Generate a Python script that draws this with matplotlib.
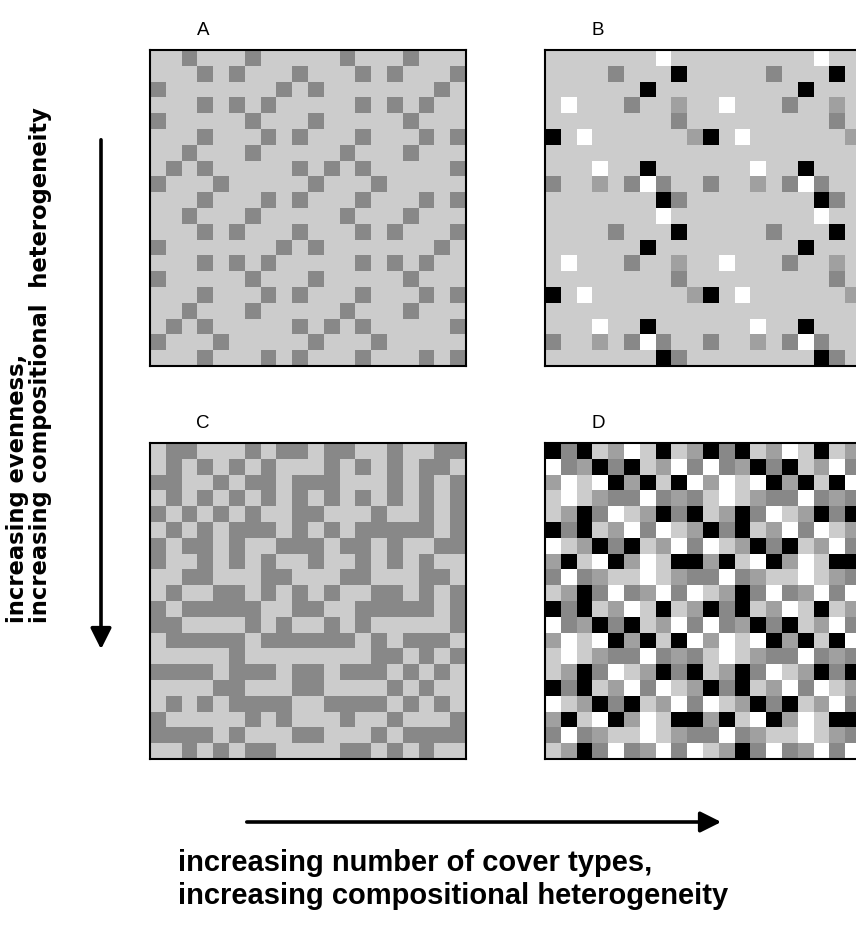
import numpy as np
import matplotlib
matplotlib.use("Agg")
import matplotlib.pyplot as plt
from matplotlib.colors import ListedColormap
from matplotlib.patches import FancyArrowPatch

# cover type codes: 0 light grey, 1 dark grey, 2 mid grey, 3 black, 4 white
cover_colors = ["#cccccc", "#888888", "#a0a0a0", "#000000", "#ffffff"]

panel_a = [
    "00100010000010001000",
    "00010100010001010001",
    "10000000101000000010",
    "00010101000001010100",
    "10000010001000001000",
    "00010001010001000101",
    "00100010000010001000",
    "01010000010101000001",
    "10001000001000100000",
    "00010001010001000101",
    "00100010000010001000",
    "00010100010001010001",
    "10000000101000000010",
    "00010101000001010100",
    "10000010001000001000",
    "00010001010001000101",
    "00100010000010001000",
    "01010000010101000001",
    "10001000001000100000",
    "00010001010001000101",
]

panel_b = [
    "00000004000000000400",
    "00001000300000100030",
    "00000030000000003000",
    "04000100200400010020",
    "00000000100000000010",
    "30400000023040000002",
    "00000000000000000000",
    "00040030000004003000",
    "10020141001002014100",
    "00000003100000000310",
    "00000004000000000400",
    "00001000300000100030",
    "00000030000000003000",
    "04000100200400010020",
    "00000000100000000010",
    "30400000023040000002",
    "00000000000000000000",
    "00040030000004003000",
    "10020141001002014100",
    "00000003100000000310",
]

panel_c = [
    "01100010110110010011",
    "01010101000101010110",
    "11001011011100010101",
    "01010101010101010101",
    "10101010011000100101",
    "01010111010101111101",
    "10110100111011010011",
    "10010101001001010100",
    "00110001100011000110",
    "01001101010100110101",
    "10111110011001111101",
    "11000010100101000001",
    "01111101111110101110",
    "00000100000000110101",
    "11110111011011101010",
    "00001100011000010100",
    "01010111100111101010",
    "10000010100010010001",
    "11110100011000101111",
    "00101011000011010100",
]

panel_d = [
    "31302403023130240302",
    "41231302414123130241",
    "24043230342404323034",
    "04021141210402114121",
    "02314023130231402313",
    "31302414023130241402",
    "40231302414023130241",
    "23043240332304324033",
    "14120040211412004021",
    "02314124140231412414",
    "31302403023130240302",
    "41231302414123130241",
    "24043230342404323034",
    "04021141210402114121",
    "02314023130231402313",
    "31302414023130241402",
    "40231302414023130241",
    "23043240332304324033",
    "14120040211412004021",
    "02314124140231412414",
]

panel_labels = ["A", "B", "C", "D"]
y_label_lines = ["increasing evenness,", "increasing compositional  heterogeneity"]
x_label_lines = ["increasing number of cover types,", "increasing compositional heterogeneity"]

W, H = 856, 927
fig = plt.figure(figsize=(W / 100, H / 100), dpi=100)


def fx(x):
    return x / W


def fy(y):
    return 1 - y / H


def draw_grid(rows, left, top, size=316):
    grid = np.array([[int(c) for c in r] for r in rows])
    ax = fig.add_axes([fx(left), fy(top + size), size / W, size / H])
    ax.imshow(grid, cmap=ListedColormap(cover_colors), vmin=-0.5, vmax=4.5,
              interpolation="nearest", aspect="auto")
    ax.set_xticks([])
    ax.set_yticks([])
    for s in ax.spines.values():
        s.set_linewidth(1.5)
        s.set_color("black")
    return ax


grids = [panel_a, panel_b, panel_c, panel_d]
corners = [(150, 50), (545, 50), (150, 443), (545, 443)]
for rows, (lx, ty), lab in zip(grids, corners, panel_labels):
    draw_grid(rows, lx, ty)
    fig.text(fx(lx + 53), fy(ty - 15), lab, fontsize=13.5, family="Liberation Sans",
             ha="center", va="baseline")

# vertical axis label (rotated, two lines); DejaVu is wider, like the stretched original
for line, bx in zip(y_label_lines, [24, 47]):
    fig.text(fx(bx), fy(623), line, rotation=90, rotation_mode="anchor",
             ha="left", va="baseline", fontsize=16.3, fontweight="bold",
             family="DejaVu Sans")

# horizontal label
for line, by in zip(x_label_lines, [871, 904]):
    fig.text(fx(178), fy(by), line, ha="left", va="baseline", fontsize=21,
             fontweight="bold", family="Liberation Sans")

# arrows
arrow_kw = dict(transform=fig.transFigure, arrowstyle="-|>,head_length=0.9,head_width=0.45",
                mutation_scale=14, lw=2.6, color="black")
fig.add_artist(FancyArrowPatch((fx(101), fy(137)), (fx(101), fy(652)), **arrow_kw))
fig.add_artist(FancyArrowPatch((fx(244), fy(822)), (fx(724), fy(822)), **arrow_kw))

fig.savefig("out.png", dpi=100)
